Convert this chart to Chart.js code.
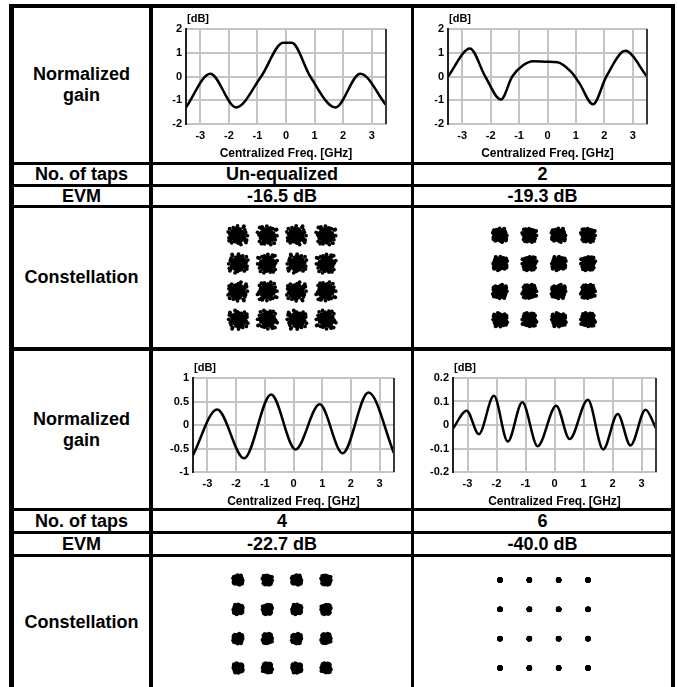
<!DOCTYPE html>
<html>
<head>
<meta charset="utf-8">
<script src="https://cdn.jsdelivr.net/npm/chart.js@4.4.1/dist/chart.umd.min.js"></script>
<style>
  body { margin: 0; background: #fff; }
  #sheet { position: relative; width: 678px; height: 687px; overflow: hidden;
           font-family: Arial, "Liberation Sans", sans-serif; font-weight: bold; color: #000; }
  .rule { position: absolute; background: #000; }
  .cell { position: absolute; display: flex; align-items: center; justify-content: center;
          text-align: center; font-size: 18px; line-height: 21px; }
  canvas { position: absolute; }
</style>
</head>
<body>
<div id="sheet"></div>
<script>
// normalized gain [dB] against centralized frequency [GHz]
const freqUneq = [-3.5, -2.65, -1.75, -0.87, -0.1, 0.2, 0.85, 1.73, 2.6, 3.5];
const gainUneq = [-1.3, 0.12, -1.3, 0.0, 1.42, 1.42, 0.0, -1.3, 0.12, -1.2];

const freq2tap = [-3.5, -2.73, -2.19, -1.64, -1.24, -0.87, -0.5, 0.0, 0.35, 0.84, 1.13, 1.6, 2.07, 2.74, 3.5];
const gain2tap = [0.0, 1.18, 0.0, -0.97, 0.0, 0.46, 0.64, 0.62, 0.6, 0.18, -0.3, -1.17, 0.0, 1.08, 0.0];

const freq4tap = [-3.5, -2.66, -1.72, -0.78, 0.07, 0.91, 1.71, 2.61, 3.5];
const gain4tap = [-0.64, 0.33, -0.71, 0.65, -0.52, 0.44, -0.6, 0.69, -0.6];

const freq6tap = [-3.5, -3.03, -2.61, -2.09, -1.61, -1.11, -0.58, 0.06, 0.52, 1.15, 1.68, 2.18, 2.62, 3.14, 3.5];
const gain6tap = [-0.015, 0.061, -0.039, 0.124, -0.07, 0.097, -0.09, 0.082, -0.06, 0.107, -0.104, 0.047, -0.087, 0.065, -0.014];

const freqTicks = [-3, -2, -1, 0, 1, 2, 3];

const tapLabels = ['Un-equalized', '2', '4', '6'];
const evmDb = [-16.5, -19.3, -22.7, -40.0];
const rowTitles = ['Normalized<br>gain', 'No. of taps', 'EVM', 'Constellation'];

// 16-QAM symbol levels and a shared set of unit error vectors
const qamLevels = [-3, -1, 1, 3];
const errorVectors = [
  [0.12, -0.05], [-0.31, 0.22], [0.45, 0.18], [-0.08, -0.41], [0.27, 0.36], [-0.52, -0.12], [0.05, 0.58], [0.63, -0.27],
  [-0.22, -0.63], [-0.67, 0.35], [0.38, -0.55], [0.71, 0.44], [-0.15, 0.12], [0.2, -0.18], [-0.4, -0.38], [0.02, 0.3],
  [0.55, 0.02], [-0.6, 0.08], [0.33, 0.67], [-0.35, 0.55], [0.15, -0.75], [-0.78, -0.3], [0.82, -0.1], [-0.05, 0.85],
  [0.48, -0.8], [-0.88, 0.52], [0.9, 0.6], [-0.55, -0.82], [0.0, 0.0], [0.22, 0.08], [-0.12, -0.2], [0.1, 0.45],
  [-0.45, 0.38], [0.6, -0.45], [-0.28, 0.0], [0.4, 0.5], [-0.7, -0.55], [0.75, 0.2], [-0.2, 0.75], [0.28, -0.35],
  [-0.95, 0.05], [0.05, -0.98], [1.0, -0.35], [-0.3, 1.0], [0.65, 0.8], [-0.82, 0.78], [0.85, -0.7], [-0.6, -0.95],
  [0.18, 0.2], [-0.1, 0.4], [0.35, -0.1], [-0.38, -0.15], [0.08, -0.55], [0.5, 0.32], [-0.5, 0.2], [0.25, 0.55],
  [-0.25, -0.45], [0.45, -0.3], [-0.65, -0.2], [0.68, -0.05], [-0.02, -0.7], [0.12, 0.72], [-0.72, 0.6], [0.92, 0.3]
];

const FONT = 'Arial, "Liberation Sans", sans-serif';
const sheet = document.getElementById('sheet');

// table rules: [left, top, width, height]
const rules = [
  [9, 4, 666, 4], [9, 162, 666, 3], [9, 184, 666, 3], [9, 205, 666, 3],
  [9, 347, 666, 4], [9, 508, 666, 3], [9, 531, 666, 3], [9, 554, 666, 3],
  [9, 4, 5, 683], [149, 4, 4, 683], [411, 4, 3, 683], [671, 4, 4, 683]
];
rules.forEach(([l, t, w, h]) => {
  const d = document.createElement('div');
  d.className = 'rule';
  Object.assign(d.style, { left: l + 'px', top: t + 'px', width: w + 'px', height: h + 'px' });
  sheet.appendChild(d);
});

const cols = [[14, 135], [153, 258], [414, 257]];
const rowsTop = [[8, 154], [165, 19], [187, 18], [208, 139]];
const rowsBottom = [[351, 157], [511, 20], [534, 20], [557, 130]];

function cell(html, col, row) {
  const d = document.createElement('div');
  d.className = 'cell';
  d.innerHTML = html;
  Object.assign(d.style, { left: col[0] + 'px', width: col[1] + 'px', top: row[0] + 'px', height: row[1] + 'px' });
  sheet.appendChild(d);
}

[rowsTop, rowsBottom].forEach((rows, half) => {
  rowTitles.forEach((t, r) => cell(t, cols[0], rows[r]));
  [0, 1].forEach(c => {
    const k = half * 2 + c;
    cell(tapLabels[k], cols[c + 1], rows[1]);
    cell(evmDb[k].toFixed(1) + ' dB', cols[c + 1], rows[2]);
  });
});

function addCanvas(left, top, width, height) {
  const cv = document.createElement('canvas');
  cv.width = width;
  cv.height = height;
  Object.assign(cv.style, { left: left + 'px', top: top + 'px', width: width + 'px', height: height + 'px' });
  sheet.appendChild(cv);
  return cv;
}

// right frame edge and the [dB] unit above the gain axis
const gainFrame = {
  id: 'gainFrame',
  afterDraw(chart) {
    const { ctx, chartArea: a } = chart;
    ctx.save();
    ctx.strokeStyle = '#3a3a3a';
    ctx.lineWidth = 2;
    ctx.beginPath();
    ctx.moveTo(a.right, a.top);
    ctx.lineTo(a.right, a.bottom);
    ctx.stroke();
    ctx.fillStyle = '#000';
    ctx.font = 'bold 11px ' + FONT;
    ctx.textAlign = 'left';
    ctx.textBaseline = 'alphabetic';
    ctx.fillText('[dB]', a.left + 1, a.top - 7);
    ctx.restore();
  }
};

const gainPanels = [
  { freq: freqUneq, gain: gainUneq, y: [-2, 2, 1], left: 155, top: 9, width: 235, height: 152, yw: 31 },
  { freq: freq2tap, gain: gain2tap, y: [-2, 2, 1], left: 416, top: 9, width: 235, height: 152, yw: 32 },
  { freq: freq4tap, gain: gain4tap, y: [-1, 1, 0.5], left: 155, top: 358, width: 243, height: 151, yw: 38 },
  { freq: freq6tap, gain: gain6tap, y: [-0.2, 0.2, 0.1], left: 416, top: 358, width: 244, height: 151, yw: 37 }
];

const tickFont = { family: FONT, size: 11, weight: 'bold' };

gainPanels.forEach(p => {
  const cv = addCanvas(p.left, p.top, p.width, p.height);
  new Chart(cv, {
    type: 'line',
    data: {
      datasets: [{
        data: p.freq.map((f, i) => ({ x: f, y: p.gain[i] })),
        borderColor: '#000',
        borderWidth: 2.5,
        pointRadius: 0,
        cubicInterpolationMode: 'monotone',
        fill: false
      }]
    },
    options: {
      responsive: false,
      animation: false,
      layout: { padding: { top: 20, right: 4, left: 0, bottom: 0 } },
      plugins: { legend: { display: false }, tooltip: { enabled: false } },
      scales: {
        x: {
          type: 'linear',
          min: -3.5,
          max: 3.5,
          afterBuildTicks: s => { s.ticks = freqTicks.map(v => ({ value: v })); },
          afterFit: s => { s.height = 37; },
          ticks: { font: tickFont, color: '#000', padding: 5, maxRotation: 0, autoSkip: false,
                   callback: v => String(v) },
          grid: { color: '#c4c4c4', lineWidth: 2, drawTicks: false },
          border: { color: '#c4c4c4', width: 2 },
          title: { display: true, text: 'Centralized Freq. [GHz]', color: '#000', padding: 0,
                   font: { family: FONT, size: 12, weight: 'bold' } }
        },
        y: {
          min: p.y[0],
          max: p.y[1],
          afterFit: s => { s.width = p.yw; },
          ticks: { stepSize: p.y[2], font: tickFont, color: '#000', padding: 4,
                   callback: v => String(+v.toFixed(2)) },
          grid: { color: '#c4c4c4', lineWidth: 2, drawTicks: false },
          border: { color: '#222', width: 2 }
        }
      }
    },
    plugins: [gainFrame]
  });
});

// received 16-QAM symbols: error vectors scaled so their rms matches the EVM
const errorRms = Math.sqrt(errorVectors.reduce((s, [a, b]) => s + a * a + b * b, 0) / errorVectors.length);

function constellation(evm) {
  const scale = Math.pow(10, evm / 20) * Math.sqrt(10) / errorRms;
  const pts = [];
  qamLevels.forEach((i, ci) => qamLevels.forEach((q, qi) => {
    const v = ci * 4 + qi;
    errorVectors.forEach(([a, b]) => {
      let dx = a, dy = b;
      if (v & 4) [dx, dy] = [dy, dx];
      if (v & 1) dx = -dx;
      if (v & 2) dy = -dy;
      pts.push({ x: i + scale * dx, y: q + scale * dy });
    });
  }));
  return pts;
}

const constPanels = [
  { left: 212, top: 210, height: 135, r: 1.9 },
  { left: 474, top: 210, height: 135, r: 2.0 },
  { left: 212, top: 554, height: 140, r: 2.0 },
  { left: 474, top: 554, height: 140, r: 2.2 }
];

constPanels.forEach((p, k) => {
  const cv = addCanvas(p.left, p.top, 140, p.height);
  new Chart(cv, {
    type: 'scatter',
    data: {
      datasets: [{
        data: constellation(evmDb[k]),
        pointRadius: p.r,
        pointBackgroundColor: '#000',
        pointBorderWidth: 0
      }]
    },
    options: {
      responsive: false,
      animation: false,
      layout: { padding: 0 },
      plugins: { legend: { display: false }, tooltip: { enabled: false } },
      scales: {
        x: { display: false, min: -4.5, max: 4.5 },
        y: { display: false, min: -4.5, max: 4.5 }
      }
    }
  });
});
</script>
</body>
</html>
